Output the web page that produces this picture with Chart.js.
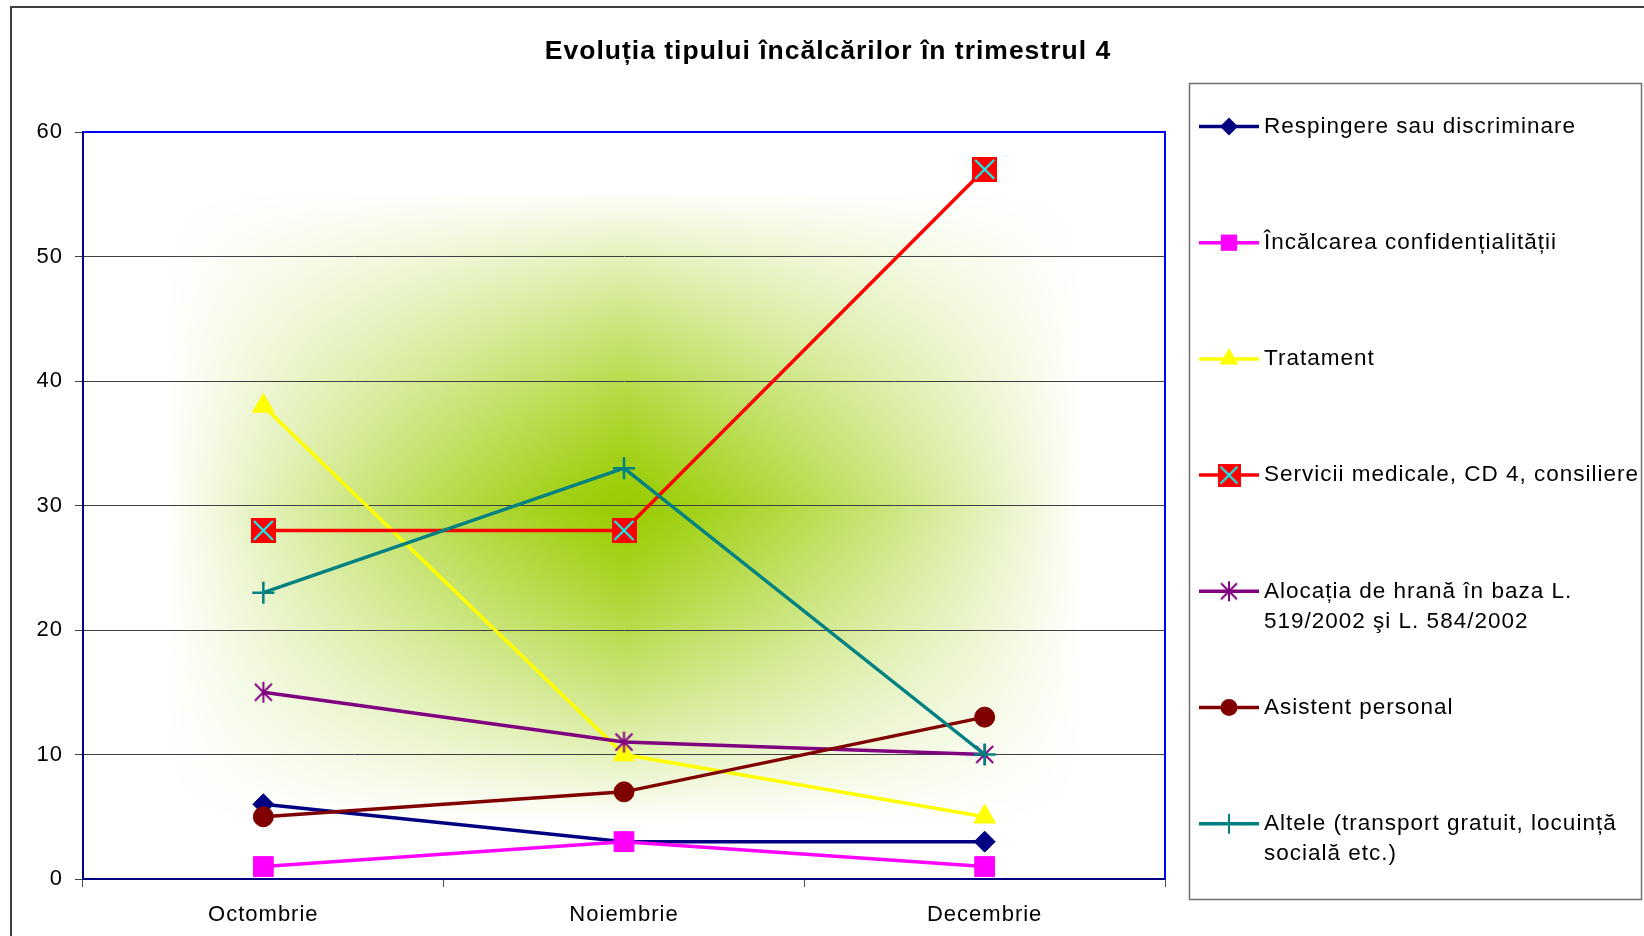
<!DOCTYPE html>
<html>
<head>
<meta charset="utf-8">
<script src="https://cdn.jsdelivr.net/npm/chart.js"></script>
<style>
  html, body { margin: 0; padding: 0; background: #ffffff; }
  #wrap { width: 1644px; height: 936px; }
</style>
</head>
<body>
<div id="wrap"><canvas id="c" width="1644" height="936"></canvas></div>
<script>
// ---- data ----
const categories = ['Octombrie', 'Noiembrie', 'Decembrie'];
const respingere = [6, 3, 3];
const incalcarea = [1, 3, 1];
const tratament = [38, 10, 5];
const servicii = [28, 28, 57];
const alocatia = [15, 11, 10];
const asistent = [5, 7, 13];
const altele = [23, 33, 10];
const yTickValues = [0, 10, 20, 30, 40, 50, 60];
const seriesNames = [
  'Respingere sau discriminare',
  'Încălcarea confidențialității',
  'Tratament',
  'Servicii medicale, CD 4, consiliere',
  'Alocația de hrană în baza L.\n519/2002 şi L. 584/2002',
  'Asistent personal',
  'Altele (transport gratuit, locuință\nsocială etc.)'
];
const titleText = 'Evoluția tipului încălcărilor în trimestrul 4';

const FONT = '"Liberation Sans", Arial, sans-serif';

// ---- custom marker images ----
function makeServiciiMarker(size) {
  const c = document.createElement('canvas');
  c.width = size; c.height = size;
  const g = c.getContext('2d');
  g.fillStyle = '#FF0000';
  g.fillRect(0, 0, size, size);
  g.strokeStyle = '#00FFFF';
  g.lineWidth = 2;
  g.beginPath();
  g.moveTo(3, 3); g.lineTo(size - 3, size - 3);
  g.moveTo(size - 3, 3); g.lineTo(3, size - 3);
  g.stroke();
  return c;
}
function makeStarMarker(size) {
  const c = document.createElement('canvas');
  c.width = size; c.height = size;
  const g = c.getContext('2d');
  g.strokeStyle = '#800080';
  g.lineWidth = 2;
  const m = size / 2;
  g.beginPath();
  g.moveTo(m, 1); g.lineTo(m, size - 1);
  g.moveTo(3, 3); g.lineTo(size - 3, size - 3);
  g.moveTo(size - 3, 3); g.lineTo(3, size - 3);
  g.stroke();
  return c;
}
const servMarker = makeServiciiMarker(25);
const servMarkerLeg = makeServiciiMarker(23);
const starMarker = makeStarMarker(23);
const starMarkerLeg = makeStarMarker(22);

const styles = [
  { color: '#000080', pointStyle: 'rectRot', radius: 10.5, legStyle: 'rectRot', legRadius: 9 },
  { color: '#FF00FF', pointStyle: 'rect', radius: 14, legStyle: 'rect', legRadius: 11.5 },
  { color: '#FFFF00', pointStyle: 'triangle', radius: 12.5, legStyle: 'triangle', legRadius: 11 },
  { color: '#FF0000', pointStyle: servMarker, radius: 12, legStyle: servMarkerLeg, legRadius: 11 },
  { color: '#800080', pointStyle: starMarker, radius: 11, legStyle: starMarkerLeg, legRadius: 11 },
  { color: '#800000', pointStyle: 'circle', radius: 10, legStyle: 'circle', legRadius: 8.5 },
  { color: '#008080', pointStyle: 'cross', radius: 11, legStyle: 'cross', legRadius: 10 }
];
const seriesData = [respingere, incalcarea, tratament, servicii, alocatia, asistent, altele];

const datasets = seriesData.map((d, i) => ({
  label: seriesNames[i],
  data: d,
  borderColor: styles[i].color,
  backgroundColor: styles[i].color,
  borderWidth: 3.5,
  pointStyle: styles[i].pointStyle,
  pointRadius: styles[i].radius,
  pointHoverRadius: styles[i].radius,
  pointBackgroundColor: styles[i].color,
  pointBorderColor: styles[i].color,
  pointBorderWidth: styles[i].pointStyle === 'cross' ? 2.5 : 1,
  tension: 0,
  fill: false,
  order: seriesData.length - i,
  clip: 20
}));

// ---- plugins ----
const backgroundPlugin = {
  id: 'bgPlugin',
  beforeDraw(chart) {
    const ctx = chart.ctx;
    ctx.letterSpacing = '1px';
    ctx.save();
    ctx.letterSpacing = '0px';
    ctx.fillStyle = '#ffffff';
    ctx.fillRect(0, 0, chart.width, chart.height);
    // outer frame
    ctx.strokeStyle = '#404040';
    ctx.lineWidth = 2;
    ctx.strokeRect(11, 7, chart.width + 50, chart.height + 50);
    // plot area center gradient
    const a = chart.chartArea;
    const w = Math.round(a.right - a.left), h = Math.round(a.bottom - a.top);
    const off = document.createElement('canvas');
    off.width = w; off.height = h;
    const g = off.getContext('2d');
    const img = g.createImageData(w, h);
    const cx = w / 2, cy = h / 2, hw = w / 2, hh = h / 2;
    const R = 153, G = 204, B = 0;
    for (let y = 0; y < h; y++) {
      const ty = Math.max(0, 1 - Math.abs(y - cy) / hh / 0.85);
      for (let x = 0; x < w; x++) {
        const tx = Math.max(0, 1 - Math.abs(x - cx) / hw / 0.85);
        const p = tx * ty;
        const t = 1 - Math.pow(1 - p, 1.3);
        const k = (y * w + x) * 4;
        img.data[k] = 255 - t * (255 - R);
        img.data[k + 1] = 255 - t * (255 - G);
        img.data[k + 2] = 255 - t * (255 - B);
        img.data[k + 3] = 255;
      }
    }
    g.putImageData(img, 0, 0);
    ctx.drawImage(off, a.left, a.top);
    ctx.restore();
  },
  beforeDatasetsDraw(chart) {
    const ctx = chart.ctx;
    const a = chart.chartArea;
    ctx.save();
    ctx.strokeStyle = '#0000FF';
    ctx.lineWidth = 2;
    ctx.beginPath();
    ctx.moveTo(a.left, a.top);
    ctx.lineTo(a.right, a.top);
    ctx.lineTo(a.right, a.bottom);
    ctx.stroke();
    ctx.restore();
  }
};

function drawLegendMarker(ctx, style, r, x, y, color) {
  ctx.save();
  ctx.fillStyle = color;
  ctx.strokeStyle = color;
  ctx.lineWidth = 1;
  if (typeof style !== 'string') {
    ctx.drawImage(style, x - style.width / 2, y - style.height / 2);
  } else if (style === 'rectRot') {
    ctx.beginPath();
    ctx.moveTo(x, y - r); ctx.lineTo(x + r, y); ctx.lineTo(x, y + r); ctx.lineTo(x - r, y);
    ctx.closePath(); ctx.fill();
  } else if (style === 'rect') {
    const s = r * Math.SQRT1_2;
    ctx.fillRect(x - s, y - s, 2 * s, 2 * s);
  } else if (style === 'triangle') {
    ctx.beginPath();
    ctx.moveTo(x, y - r);
    ctx.lineTo(x + r * 0.866, y + r * 0.5);
    ctx.lineTo(x - r * 0.866, y + r * 0.5);
    ctx.closePath(); ctx.fill();
  } else if (style === 'circle') {
    ctx.beginPath(); ctx.arc(x, y, r, 0, Math.PI * 2); ctx.fill();
  } else if (style === 'cross') {
    ctx.lineWidth = 2;
    ctx.beginPath();
    ctx.moveTo(x, y - r); ctx.lineTo(x, y + r);
    ctx.moveTo(x - r, y); ctx.lineTo(x + r, y);
    ctx.stroke();
  }
  ctx.restore();
}

const legendPlugin = {
  id: 'customLegend',
  afterDraw(chart) {
    const ctx = chart.ctx;
    ctx.save();
    ctx.letterSpacing = '1px';
    ctx.strokeStyle = '#707070';
    ctx.lineWidth = 1.5;
    ctx.strokeRect(1189.5, 83.5, 452, 816);
    const y0 = 126.5, step = 116.2;
    chart.data.datasets.forEach((ds, i) => {
      const y = y0 + i * step;
      ctx.strokeStyle = ds.borderColor;
      ctx.lineWidth = 3.5;
      ctx.beginPath();
      ctx.moveTo(1199, y); ctx.lineTo(1259, y);
      ctx.stroke();
      drawLegendMarker(ctx, styles[i].legStyle, styles[i].legRadius, 1229, y, ds.borderColor);
      ctx.fillStyle = '#000000';
      ctx.font = '22.5px ' + FONT;
      ctx.textAlign = 'left';
      ctx.textBaseline = 'middle';
      ds.label.split('\n').forEach((line, j) => {
        ctx.fillText(line, 1264, y + j * 30);
      });
    });
    ctx.restore();
  }
};

new Chart(document.getElementById('c'), {
  type: 'line',
  data: { labels: categories, datasets: datasets },
  options: {
    responsive: false,
    animation: false,
    events: [],
    layout: { padding: { left: 12, right: 0, top: 0, bottom: 0 } },
    plugins: {
      legend: { display: false },
      tooltip: { enabled: false },
      title: {
        display: true,
        text: titleText,
        color: '#000000',
        font: { family: FONT, size: 26.5, weight: 'bold', lineHeight: 1.2 },
        padding: { top: 35.5, bottom: 64.7 }
      }
    },
    scales: {
      x: {
        type: 'category',
        offset: true,
        grid: { offset: true, drawOnChartArea: false, drawTicks: true, tickLength: 8, color: '#505050', lineWidth: 1 },
        border: { display: true, color: '#000080', width: 2 },
        ticks: { color: '#000000', font: { family: FONT, size: 22 }, padding: 15, maxRotation: 0 },
        afterFit(s) { s.height = 57; }
      },
      y: {
        min: yTickValues[0],
        max: yTickValues[yTickValues.length - 1],
        afterBuildTicks(s) { s.ticks = yTickValues.map(v => ({ value: v })); },
        grid: { color: '#404040', lineWidth: 1, tickLength: 8 },
        border: { display: true, color: '#000080', width: 2 },
        ticks: { color: '#000000', font: { family: FONT, size: 22 }, padding: 12 },
        afterFit(s) { s.width = 71; }
      },
      yRight: {
        position: 'right',
        display: true,
        grid: { display: false, drawTicks: false },
        border: { display: false },
        ticks: { display: false },
        afterFit(s) { s.width = 479; }
      }
    }
  },
  plugins: [backgroundPlugin, legendPlugin]
});
</script>
</body>
</html>
